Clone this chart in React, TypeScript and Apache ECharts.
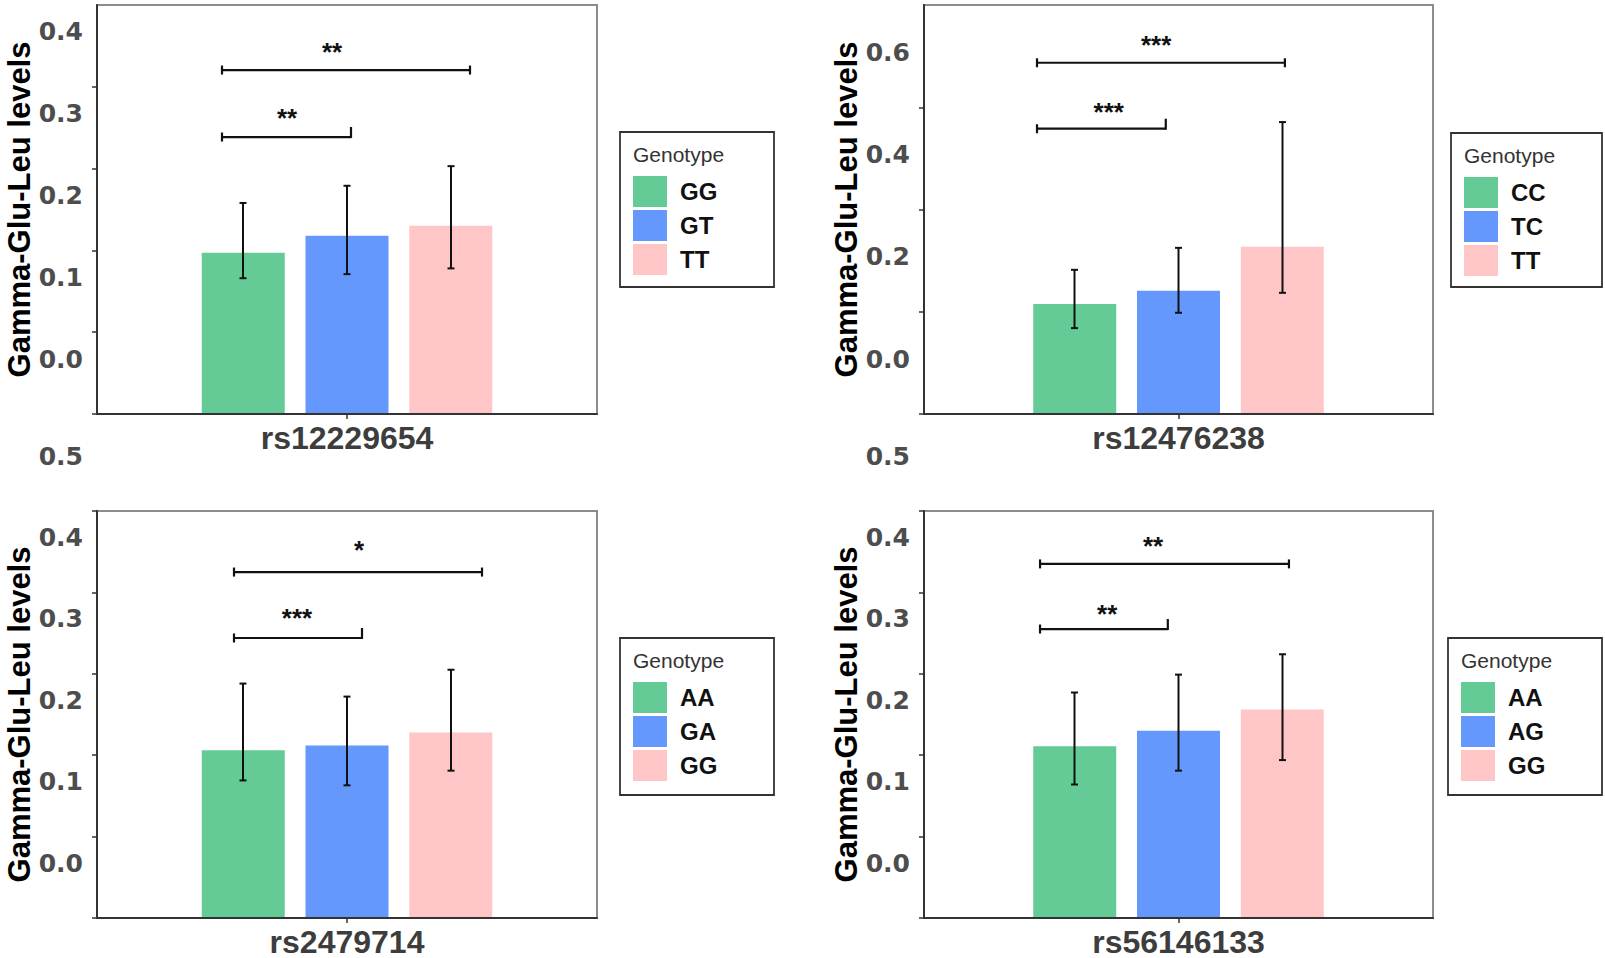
import React, { useEffect, useRef } from 'react';
import * as echarts from 'echarts';

// ---- data ----
const snps = ['rs12229654', 'rs12476238', 'rs2479714', 'rs56146133'];
const genotypes = [
  ['GG', 'GT', 'TT'],
  ['CC', 'TC', 'TT'],
  ['AA', 'GA', 'GG'],
  ['AA', 'AG', 'GG'],
];
const means = [
  [0.197, 0.218, 0.23],
  [0.215, 0.241, 0.327],
  [0.206, 0.212, 0.228],
  [0.211, 0.23, 0.256],
];
const errHigh = [
  [0.258, 0.279, 0.303],
  [0.282, 0.325, 0.571],
  [0.288, 0.272, 0.305],
  [0.277, 0.299, 0.324],
];
const errLow = [
  [0.166, 0.171, 0.178],
  [0.168, 0.198, 0.237],
  [0.169, 0.163, 0.181],
  [0.164, 0.181, 0.194],
];
const yMax = [0.5, 0.8, 0.5, 0.5];
const yStep = [0.1, 0.2, 0.1, 0.1];
// brackets: [x0, x1, y] with x as fraction of panel width
const longBrackets = [
  [0.25, 0.746, 0.4205],
  [0.222, 0.709, 0.687],
  [0.274, 0.77, 0.425],
  [0.228, 0.717, 0.435],
];
const shortBrackets = [
  [0.25, 0.508, 0.3386],
  [0.222, 0.475, 0.558],
  [0.274, 0.53, 0.344],
  [0.228, 0.479, 0.355],
];
const longStars = ['**', '***', '*', '**'];
const shortStars = ['**', '***', '***', '**'];
const longStarPos = [
  [0.47, 0.4425],
  [0.456, 0.722],
  [0.524, 0.452],
  [0.45, 0.457],
];
const shortStarPos = [
  [0.38, 0.362],
  [0.363, 0.591],
  [0.4, 0.369],
  [0.36, 0.373],
];

// ---- layout / style ----
const colors = ['#64CB96', '#6598FC', '#FEC6C6'];
const grids = [
  { left: 97, top: 5, width: 500, height: 409 },
  { left: 924, top: 5, width: 509, height: 409 },
  { left: 97, top: 511, width: 500, height: 408 },
  { left: 924, top: 511, width: 509, height: 408 },
];
const legendBoxes = [
  { x: 620, y: 132, w: 154, h: 155 },
  { x: 1451, y: 133, w: 151, h: 154 },
  { x: 620, y: 638, w: 154, h: 157 },
  { x: 1448, y: 638, w: 154, h: 157 },
];
const SANS = 'Liberation Sans';

export default function App() {
  const ref = useRef<HTMLDivElement>(null);
  useEffect(() => {
    const chart = echarts.init(ref.current as HTMLDivElement, null, { renderer: 'svg' });

    const grid: any[] = [];
    const xAxis: any[] = [];
    const yAxis: any[] = [];
    const series: any[] = [];
    const legend: any[] = [];
    const graphic: any[] = [];

    for (let p = 0; p < 4; p++) {
      grid.push({
        ...grids[p],
        show: true,
        borderColor: '#8c8c8c',
        borderWidth: 2,
        backgroundColor: 'transparent',
      });
      xAxis.push({
        gridIndex: p,
        type: 'category',
        data: [snps[p]],
        z: 5,
        axisLine: { show: true, lineStyle: { color: '#333', width: 2 } },
        axisTick: { show: true, alignWithLabel: true, length: 5, lineStyle: { color: '#333', width: 1.5 } },
        axisLabel: { fontFamily: SANS, fontWeight: 'bold', fontSize: 32, color: '#3d3d3d', margin: 8 },
        splitLine: { show: false },
      });
      xAxis.push({
        gridIndex: p,
        type: 'value',
        min: 0,
        max: 1,
        show: false,
      });
      yAxis.push({
        gridIndex: p,
        type: 'value',
        min: 0,
        max: yMax[p],
        interval: yStep[p],
        z: 5,
        name: 'Gamma-Glu-Leu levels',
        nameLocation: 'middle',
        nameGap: 62,
        nameTextStyle: { fontFamily: SANS, fontWeight: 'bold', fontSize: 31, color: '#000' },
        axisLine: { show: true, lineStyle: { color: '#333', width: 2 } },
        axisTick: { show: true, length: 5, lineStyle: { color: '#333', width: 1.5 } },
        splitLine: { show: false },
        axisLabel: {
          showMinLabel: true,
          showMaxLabel: p >= 2,
          hideOverlap: false,
          margin: 14,
          verticalAlign: 'bottom',
          formatter: (v: number) => `{a|${v.toFixed(1)}}\n{b| }`,
          rich: {
            a: {
              fontFamily: 'DejaVu Sans',
              fontWeight: 'bold',
              fontSize: 25,
              lineHeight: 30,
              color: '#4d4d4d',
              align: 'right',
            },
            b: { fontSize: 10, lineHeight: 40, align: 'right' },
          },
        },
      });

      for (let g = 0; g < 3; g++) {
        series.push({
          type: 'bar',
          name: genotypes[p][g],
          xAxisIndex: 2 * p,
          yAxisIndex: p,
          data: [means[p][g]],
          barWidth: 83,
          barGap: '25%',
          itemStyle: { color: colors[g] },
          z: 2,
        });
      }

      // error bars
      series.push({
        type: 'custom',
        xAxisIndex: 2 * p,
        yAxisIndex: p,
        z: 4,
        encode: { x: 0, y: [2, 3] },
        data: [0, 1, 2].map((g) => [0, g, errLow[p][g], errHigh[p][g]]),
        renderItem: (params: any, api: any) => {
          const g = api.value(1);
          const hi = api.coord([0, api.value(3)]);
          const lo = api.coord([0, api.value(2)]);
          const x = hi[0] + (g - 1) * 104;
          const st = { stroke: '#111', lineWidth: 2 };
          return {
            type: 'group',
            children: [
              { type: 'line', shape: { x1: x, y1: hi[1], x2: x, y2: lo[1] }, style: st },
              { type: 'line', shape: { x1: x - 3.5, y1: hi[1], x2: x + 3.5, y2: hi[1] }, style: st },
              { type: 'line', shape: { x1: x - 3.5, y1: lo[1], x2: x + 3.5, y2: lo[1] }, style: st },
            ],
          };
        },
      });

      // significance brackets
      series.push({
        type: 'custom',
        xAxisIndex: 2 * p + 1,
        yAxisIndex: p,
        z: 4,
        encode: { x: [0, 1], y: 2 },
        data: [
          [longBrackets[p][0], longBrackets[p][1], longBrackets[p][2], 0],
          [shortBrackets[p][0], shortBrackets[p][1], shortBrackets[p][2], 1],
        ],
        renderItem: (params: any, api: any) => {
          const a = api.coord([api.value(0), api.value(2)]);
          const b = api.coord([api.value(1), api.value(2)]);
          const kind = api.value(3);
          const st = { stroke: '#111', lineWidth: 2.2 };
          return {
            type: 'group',
            children: [
              { type: 'line', shape: { x1: a[0], y1: a[1], x2: b[0], y2: b[1] }, style: st },
              { type: 'line', shape: { x1: a[0], y1: a[1] - 4.5, x2: a[0], y2: a[1] + 4.5 }, style: st },
              kind === 0
                ? { type: 'line', shape: { x1: b[0], y1: b[1] - 4.5, x2: b[0], y2: b[1] + 4.5 }, style: st }
                : { type: 'line', shape: { x1: b[0], y1: b[1] - 10, x2: b[0], y2: b[1] + 1 }, style: st },
            ],
          };
        },
      });

      // stars
      const starTexts = [longStars[p], shortStars[p]];
      series.push({
        type: 'custom',
        xAxisIndex: 2 * p + 1,
        yAxisIndex: p,
        z: 4,
        encode: { x: 0, y: 1 },
        data: [longStarPos[p], shortStarPos[p]],
        renderItem: (params: any, api: any) => {
          const c = api.coord([api.value(0), api.value(1)]);
          return {
            type: 'text',
            x: c[0],
            y: c[1],
            style: {
              text: starTexts[params.dataIndex],
              font: `bold 26px "${SANS}"`,
              fill: '#111',
              align: 'center',
              verticalAlign: 'middle',
            },
          };
        },
      });

      const box = legendBoxes[p];
      graphic.push({
        type: 'rect',
        z: 1,
        shape: { x: box.x, y: box.y, width: box.w, height: box.h },
        style: { fill: '#fff', stroke: '#333', lineWidth: 1.8 },
      });
      graphic.push({
        type: 'text',
        z: 2,
        x: box.x + 13,
        y: box.y + 22,
        style: {
          text: 'Genotype',
          font: `21px "${SANS}"`,
          fill: '#333',
          verticalAlign: 'middle',
        },
      });
      legend.push({
        left: box.x + 13,
        top: box.y + 44,
        orient: 'vertical',
        z: 10,
        padding: 0,
        itemWidth: 34,
        itemHeight: 31,
        itemGap: 3,
        icon: 'rect',
        selectedMode: false,
        textStyle: { fontFamily: SANS, fontWeight: 'bold', fontSize: 24, color: '#111', padding: [0, 0, 0, 8] },
        data: genotypes[p].map((n, g) => ({ name: n, icon: 'rect', itemStyle: { color: colors[g] } })),
      });
    }

    chart.setOption({
      animation: false,
      backgroundColor: '#fff',
      grid,
      xAxis,
      yAxis,
      series,
      legend,
      graphic,
    });
    return () => chart.dispose();
  }, []);
  return (
    <div
      ref={ref}
      style={{ position: 'fixed', left: 0, top: 0, width: 1605, height: 958, background: '#fff' }}
    />
  );
}
